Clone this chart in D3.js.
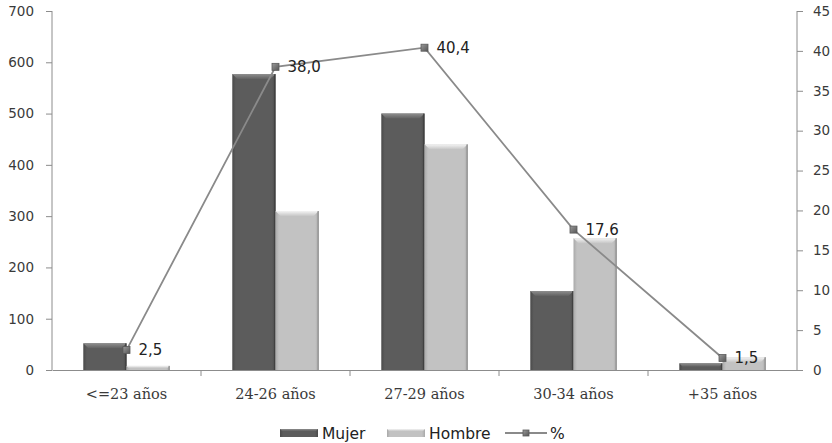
<!DOCTYPE html>
<html>
<head>
<meta charset="utf-8">
<script src="https://cdn.jsdelivr.net/npm/d3@7"></script>
<style>
  html, body { margin: 0; padding: 0; background: #ffffff; }
  svg { display: block; }
</style>
</head>
<body>
<svg id="chart" width="832" height="443"></svg>
<script>
// Age groups and counts by sex, plus share of total (%)
const categories = ["<=23 años", "24-26 años", "27-29 años", "30-34 años", "+35 años"];
const mujer = [52, 577, 500, 154, 13];
const hombre = [8, 310, 440, 257, 25];
const pct = [2.5, 38.0, 40.4, 17.6, 1.5];
const leftTicks = [0, 100, 200, 300, 400, 500, 600, 700];
const rightTicks = [0, 5, 10, 15, 20, 25, 30, 35, 40, 45];

const svg = d3.select("#chart");
const W = 832, H = 443;
const m = { left: 52, right: 35, top: 11, bottom: 73 };
const plotW = W - m.left - m.right;
const plotH = H - m.top - m.bottom;

const x = d3.scaleBand().domain(categories).range([m.left, m.left + plotW]).paddingInner(0).paddingOuter(0);
const yL = d3.scaleLinear().domain([0, 700]).range([m.top + plotH, m.top]);
const yR = d3.scaleLinear().domain([0, 45]).range([m.top + plotH, m.top]);
const barW = x.bandwidth() * 0.29;

const defs = svg.append("defs");
function bodyGrad(id, edge, mid) {
  const g = defs.append("linearGradient").attr("id", id).attr("x1", 0).attr("x2", 1).attr("y1", 0).attr("y2", 0);
  g.append("stop").attr("offset", "0%").attr("stop-color", edge);
  g.append("stop").attr("offset", "8%").attr("stop-color", mid);
  g.append("stop").attr("offset", "92%").attr("stop-color", mid);
  g.append("stop").attr("offset", "100%").attr("stop-color", edge);
}
function topGrad(id, a, b) {
  const g = defs.append("linearGradient").attr("id", id).attr("x1", 0).attr("x2", 0).attr("y1", 0).attr("y2", 1);
  g.append("stop").attr("offset", "0%").attr("stop-color", a);
  g.append("stop").attr("offset", "100%").attr("stop-color", b);
}
bodyGrad("mBody", "#4a4a4a", "#5c5c5c");
bodyGrad("hBody", "#a9a9a9", "#c2c2c2");
topGrad("mTop", "#8e8e8e", "#616161");
topGrad("hTop", "#f4f4f4", "#c6c6c6");
const mk = defs.append("linearGradient").attr("id", "mkG").attr("x1", 0).attr("x2", 1).attr("y1", 0).attr("y2", 1);
mk.append("stop").attr("offset", "0%").attr("stop-color", "#9a9a9a");
mk.append("stop").attr("offset", "100%").attr("stop-color", "#555");

// Axes
const axisColor = "#8c8c8c";
const textColor = "#3a3a3a";

const gL = svg.append("g").attr("transform", `translate(${m.left},0)`)
  .call(d3.axisLeft(yL).tickValues(leftTicks).tickSize(6).tickPadding(12).tickFormat(d3.format("d")));
const gR = svg.append("g").attr("transform", `translate(${m.left + plotW},0)`)
  .call(d3.axisRight(yR).tickValues(rightTicks).tickSize(6).tickPadding(10).tickFormat(d3.format("d")));
[gL, gR].forEach(g => {
  g.select(".domain").attr("stroke", axisColor).attr("d", `M0,${yL(700)}V${yL(0)}`);
  g.selectAll(".tick line").attr("stroke", axisColor);
  g.selectAll(".tick text").attr("fill", textColor).attr("font-family", "DejaVu Sans").attr("font-size", "13.5px");
});

const gX = svg.append("g").attr("transform", `translate(0,${yL(0)})`)
  .call(d3.axisBottom(x).tickSize(0).tickPadding(19));
gX.select(".domain").attr("stroke", axisColor);
gX.selectAll(".tick text").attr("fill", textColor).attr("font-family", "DejaVu Serif").attr("font-size", "14.5px");
// category separators
const bounds = d3.range(1, categories.length).map(i => m.left + i * x.step());
svg.append("g").selectAll("line").data(bounds).join("line")
  .attr("x1", d => d).attr("x2", d => d).attr("y1", yL(0)).attr("y2", yL(0) + 6)
  .attr("stroke", axisColor);

// Bevelled bars
function drawBar(g, x0, w, y0, y1, body, top, edgeCol) {
  const h = y1 - y0;
  const b = Math.min(5, h / 2);
  g.append("rect").attr("x", x0).attr("y", y0).attr("width", w).attr("height", h).attr("fill", body);
  g.append("path")
    .attr("d", `M${x0},${y0}H${x0 + w}L${x0 + w - b},${y0 + b}H${x0 + b}Z`)
    .attr("fill", top);
  g.append("rect").attr("x", x0 + w - 1.2).attr("y", y0).attr("width", 1.2).attr("height", h).attr("fill", edgeCol);
}
const bars = svg.append("g");
categories.forEach((c, i) => {
  const cx = x(c) + x.bandwidth() / 2;
  drawBar(bars, cx - barW, barW, yL(mujer[i]), yL(0), "url(#mBody)", "url(#mTop)", "#3c3c3c");
  drawBar(bars, cx, barW, yL(hombre[i]), yL(0), "url(#hBody)", "url(#hTop)", "#8f8f8f");
});

// Percentage line
const pts = categories.map((c, i) => [x(c) + x.bandwidth() / 2, yR(pct[i])]);
svg.append("path").attr("d", d3.line()(pts)).attr("fill", "none").attr("stroke", "#8a8a8a").attr("stroke-width", 1.8);
svg.append("g").selectAll("rect").data(pts).join("rect")
  .attr("x", d => d[0] - 3.5).attr("y", d => d[1] - 3.5).attr("width", 7).attr("height", 7)
  .attr("fill", "url(#mkG)").attr("stroke", "#5a5a5a").attr("stroke-width", 0.8);
svg.append("g").selectAll("text").data(pts).join("text")
  .attr("x", d => d[0] + 12).attr("y", d => d[1]).attr("dy", "0.36em")
  .attr("font-family", "DejaVu Sans").attr("font-size", "15px").attr("fill", "#222")
  .text((d, i) => d3.format(".1f")(pct[i]).replace(".", ","));

// Legend
const lg = svg.append("g").attr("transform", "translate(0,433)");
function legendSwatch(x0, body, top) {
  lg.append("rect").attr("x", x0).attr("y", -4).attr("width", 38).attr("height", 8).attr("fill", body);
  lg.append("path").attr("d", `M${x0},-4H${x0 + 38}L${x0 + 36},-2H${x0 + 2}Z`).attr("fill", top);
}
legendSwatch(280, "url(#mBody)", "url(#mTop)");
legendSwatch(387, "url(#hBody)", "url(#hTop)");
lg.append("line").attr("x1", 505).attr("x2", 547).attr("y1", 0).attr("y2", 0).attr("stroke", "#8a8a8a").attr("stroke-width", 1.8);
lg.append("rect").attr("x", 523).attr("y", -3).attr("width", 6).attr("height", 6).attr("fill", "url(#mkG)").attr("stroke", "#5a5a5a").attr("stroke-width", 0.8);
const legItems = [["Mujer", 322], ["Hombre", 429], ["%", 550]];
lg.selectAll("text").data(legItems).join("text")
  .attr("x", d => d[1]).attr("y", 0).attr("dy", "0.36em")
  .attr("font-family", "DejaVu Sans").attr("font-size", "15.5px").attr("fill", "#222")
  .text(d => d[0]);
</script>
</body>
</html>
